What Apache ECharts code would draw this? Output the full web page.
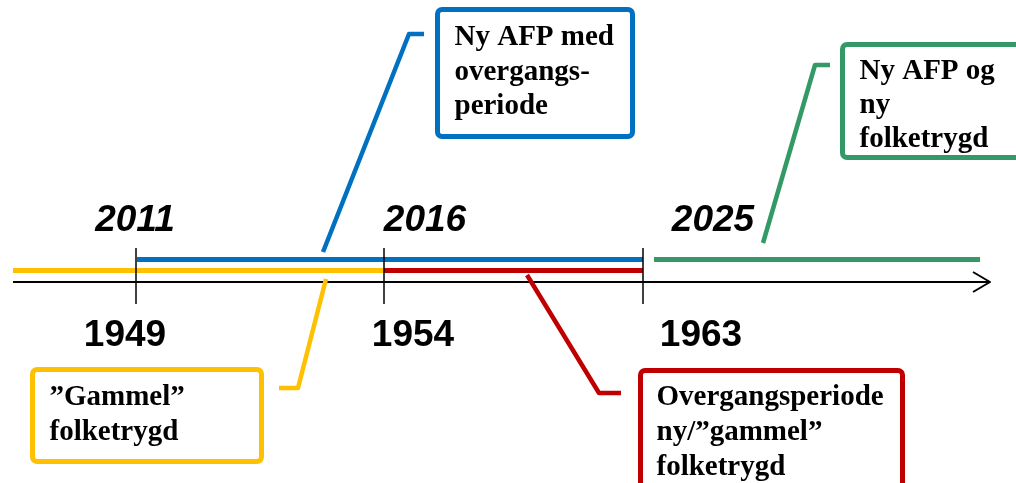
<!DOCTYPE html>
<html>
<head>
<meta charset="utf-8">
<script src="https://cdn.jsdelivr.net/npm/echarts@6/dist/echarts.min.js"></script>
<style>
  html, body { margin: 0; padding: 0; background: #fff; }
  #chart { width: 1016px; height: 483px; }
</style>
</head>
<body>
<div id="chart"></div>
<script>
// timeline values, in the chart's own x/y units (0..1016, 0..483 from top)
const axisSpan = [13, 990];
const axisY = 282;
const tickX = [136, 384, 643];
const tickSpan = [248, 304];

const topYears = ['2011', '2016', '2025'];
const topYearX = [135, 425, 713];
const birthYears = ['1949', '1954', '1963'];
const birthYearX = [125, 413, 701];

const gammelSpan = [13, 384];      // yellow
const nyAfpSpan = [137, 643];      // blue
const overgangSpan = [384, 643];   // red
const nyFolkSpan = [654, 980];     // green

const blueText = ['Ny AFP med', 'overgangs-', 'periode'];
const greenText = ['Ny AFP og', 'ny', 'folketrygd'];
const yellowText = ['\u201dGammel\u201d', 'folketrygd'];
const redText = ['Overgangsperiode', 'ny/\u201dgammel\u201d', 'folketrygd'];

// callout leader lines (box end -> elbow -> bar)
const blueLeader = [[424, 34], [409, 34], [323, 252]];
const greenLeader = [[830, 65], [815, 65], [763, 243]];
const yellowLeader = [[279, 388], [298, 388], [326, 279]];
const redLeader = [[621, 393], [599, 393], [527, 275]];

const BLUE = '#0070C0', YELLOW = '#FFC000', RED = '#C00000', GREEN = '#339966';

const series = [];
function seg(points, color, width, z) {
  series.push({
    type: 'line', data: points, symbol: 'none', silent: true, z: z,
    lineStyle: { color: color, width: width, cap: 'butt', join: 'round' }
  });
}

// base axis with arrow
seg([[axisSpan[0], axisY], [axisSpan[1], axisY]], '#000', 2, 2);
seg([[axisSpan[1] - 17, axisY - 10], [axisSpan[1], axisY], [axisSpan[1] - 17, axisY + 10]], '#000', 2, 2);

// coloured periods
seg([[gammelSpan[0], 270.5], [gammelSpan[1], 270.5]], YELLOW, 5, 3);
seg([[overgangSpan[0], 270.5], [overgangSpan[1], 270.5]], RED, 5, 3);
seg([[nyAfpSpan[0], 259.5], [nyAfpSpan[1], 259.5]], BLUE, 5, 3);
seg([[nyFolkSpan[0], 259.5], [nyFolkSpan[1], 259.5]], GREEN, 5, 3);

// ticks
tickX.forEach(x => seg([[x, tickSpan[0]], [x, tickSpan[1]]], '#000', 1.5, 4));

// leaders
seg(blueLeader, BLUE, 4.5, 3);
seg(greenLeader, GREEN, 4.5, 3);
seg(yellowLeader, YELLOW, 4.5, 3);
seg(redLeader, RED, 4.5, 3);

// year labels
const yearItems = [];
topYears.forEach((t, i) => yearItems.push({
  value: [topYearX[i], 221],
  label: { formatter: t, fontStyle: 'italic' }
}));
birthYears.forEach((t, i) => yearItems.push({
  value: [birthYearX[i], 336],
  label: { formatter: t, fontStyle: 'normal' }
}));
series.push({
  type: 'scatter', data: yearItems, symbolSize: 1, silent: true, z: 5,
  itemStyle: { color: 'transparent', opacity: 1 },
  label: {
    show: true, position: 'inside', align: 'center', verticalAlign: 'middle',
    fontFamily: 'Liberation Sans, Arial, sans-serif', fontWeight: 'bold',
    fontSize: 37, color: '#000'
  }
});

// boxes: text, colour, left, top, width, height, padTop, padLeft, lineHeight
function box(lines, color, x, y, w, h, pt, pl, lh) {
  return {
    value: [x, y],
    label: {
      formatter: lines.join('\n'),
      borderColor: color, lineHeight: lh,
      width: w - pl, height: h - pt,
      padding: [pt, 0, 0, pl]
    }
  };
}
series.push({
  type: 'scatter', symbolSize: 1, silent: true, z: 6,
  itemStyle: { color: 'transparent', opacity: 1 },
  data: [
    box(blueText, BLUE, 440.5, 12.5, 190, 122, 8.5, 14.5, 34.5),
    box(greenText, GREEN, 845.5, 47.5, 180, 108, 7.7, 14.5, 34),
    box(yellowText, YELLOW, 35.5, 372.5, 224, 87, 8.2, 14.5, 35),
    box(redText, RED, 643.5, 373.5, 257, 120, 7.2, 13.5, 35)
  ],
  label: {
    show: true, position: [0, 0], align: 'left', verticalAlign: 'top',
    fontFamily: 'Liberation Serif, Times New Roman, serif', fontWeight: 'bold',
    fontSize: 29, color: '#000', overflow: 'none', opacity: 1,
    borderWidth: 5, borderRadius: 2, backgroundColor: '#fff'
  }
});

const chart = echarts.init(document.getElementById('chart'), null, { renderer: 'canvas' });
chart.setOption({
  animation: false,
  backgroundColor: '#fff',
  grid: { left: 0, right: 0, top: 0, bottom: 0 },
  xAxis: { type: 'value', min: 0, max: 1016, show: false },
  yAxis: { type: 'value', min: 0, max: 483, inverse: true, show: false },
  series: series
});
</script>
</body>
</html>
